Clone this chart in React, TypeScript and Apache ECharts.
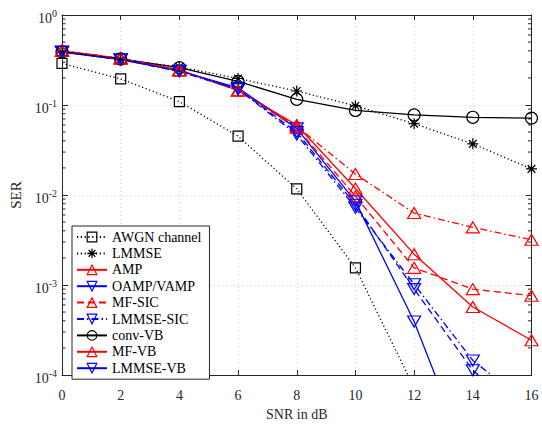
import React, { useEffect, useRef } from "react";
import * as echarts from "echarts";

const snr = [0, 2, 4, 6, 8, 10, 12, 14, 16];
const awgn = [0.29, 0.195, 0.109, 0.045, 0.0117, 0.00155, 0.000072, null, null];
const lmmse = [0.385, 0.32, 0.265, 0.197, 0.143, 0.098, 0.062, 0.037, 0.0195];
const amp = [0.4, 0.33, 0.245, 0.145, 0.06, 0.0118, 0.0022, 0.00057, 0.000243];
const oamp = [0.39, 0.32, 0.24, 0.155, 0.055, 0.0085, 0.000393, 0.0000085, 0.0000002];
const mfSic = [0.4, 0.33, 0.24, 0.145, 0.058, 0.0171, 0.0063, 0.00437, 0.00318];
const lmmseSic = [0.39, 0.32, 0.235, 0.15, 0.047, 0.0072, 0.00102, 0.000145, 0.000045];
const convVb = [0.39, 0.325, 0.26, 0.183, 0.1155, 0.087, 0.0776, 0.073, 0.0715];
const mfVb = [0.4, 0.33, 0.245, 0.145, 0.056, 0.0097, 0.00155, 0.0009, 0.00076];
const lmmseVb = [0.39, 0.32, 0.24, 0.15, 0.05, 0.0078, 0.0009, 0.000113, 0.00003];

const decades = [-4, -3, -2, -1];
const minorMultipliers = [2, 3, 4, 5, 6, 7, 8, 9];

const FONT = "Liberation Serif";
const RED = "#ff0000";
const BLUE = "#0000ff";
const BLACK = "#000000";
const CLEAR = "rgba(255,255,255,0)";

const ASTERISK =
  "path://M0,-10 L0,10 M-10,0 L10,0 M-7,-7 L7,7 M-7,7 L7,-7";

function pair(ys: (number | null)[]) {
  return snr.map((x, i) => [x, ys[i]]);
}

function mkSeries(
  name: string,
  data: (number | null)[],
  color: string,
  lineType: any,
  symbol: string,
  symbolSize: any,
  rotate = 0,
  width = 1.3
) {
  return {
    name,
    type: "line",
    data: pair(data),
    xAxisIndex: 0,
    yAxisIndex: 0,
    clip: true,
    symbol,
    symbolSize,
    symbolRotate: rotate,
    showAllSymbol: true,
    connectNulls: false,
    lineStyle: { color, width, type: lineType },
    itemStyle: { color: CLEAR, borderColor: color, borderWidth: 1.2 },
    emphasis: { disabled: true },
  };
}

export default function App() {
  const ref = useRef<HTMLDivElement>(null);
  useEffect(() => {
    if (!ref.current) return;
    const chart = echarts.init(ref.current, null, { renderer: "svg" });
    const minorData: number[][] = [];
    decades.forEach((d) =>
      minorMultipliers.forEach((m) => minorData.push([0, m * Math.pow(10, d)]))
    );
    const dotted = [1.2, 2.6];
    const dashed = [7, 4];
    const dashDot = [7, 3, 1.5, 3];
    const tri = [13, 11];
    const li = (name: string, color: string, extra: any = {}) => ({
      name,
      itemStyle: { color: CLEAR, borderColor: color, borderWidth: 1.2 },
      ...extra,
    });
    const option: any = {
      animation: false,
      backgroundColor: "#ffffff",
      grid: { left: 62, top: 15, right: 10.5, bottom: 41, containLabel: false },
      xAxis: [
        {
          type: "value",
          min: 0,
          max: 16,
          interval: 2,
          name: "SNR in dB",
          nameLocation: "middle",
          nameGap: 32,
          nameTextStyle: { fontFamily: FONT, fontSize: 14, color: "#262626" },
          axisLine: { show: true, onZero: false, lineStyle: { color: "#262626", width: 1 } },
          axisTick: { show: true, inside: true, length: 5, lineStyle: { color: "#262626" } },
          axisLabel: { fontFamily: FONT, fontSize: 14, color: "#262626", margin: 13 },
          splitLine: { show: true, lineStyle: { color: "#cfcfcf", type: [1, 3], width: 1 } },
        },
        {
          type: "value",
          position: "top",
          min: 0,
          max: 16,
          interval: 2,
          axisLine: { show: true, onZero: false, lineStyle: { color: "#262626", width: 1 } },
          axisTick: { show: true, inside: true, length: 5, lineStyle: { color: "#262626" } },
          axisLabel: { show: false },
          splitLine: { show: false },
        },
      ],
      yAxis: [
        {
          type: "log",
          logBase: 10,
          min: 0.0001,
          max: 1,
          name: "SER",
          nameLocation: "middle",
          nameGap: 37,
          nameTextStyle: { fontFamily: FONT, fontSize: 15, color: "#262626" },
          axisLine: { show: true, onZero: false, lineStyle: { color: "#262626", width: 1 } },
          axisTick: { show: true, inside: true, length: 6, lineStyle: { color: "#262626" } },
          axisLabel: {
            margin: 5,
            color: "#262626",
            formatter: (v: number) => {
              const e = Math.round(Math.log10(v));
              return "{b|10}{s|" + e + "}";
            },
            rich: {
              b: { fontFamily: FONT, fontSize: 14, color: "#262626", padding: [6, 0, 0, 0] },
              s: { fontFamily: FONT, fontSize: 10, color: "#262626", padding: [0, 0, 4, 0] },
            },
          },
          splitLine: { show: true, lineStyle: { color: "#cfcfcf", type: [1, 3], width: 1 } },
        },
        {
          type: "log",
          logBase: 10,
          position: "right",
          min: 0.0001,
          max: 1,
          axisLine: { show: true, onZero: false, lineStyle: { color: "#262626", width: 1 } },
          axisTick: { show: true, inside: true, length: 6, lineStyle: { color: "#262626" } },
          axisLabel: { show: false },
          splitLine: { show: false },
        },
      ],
      legend: {
        orient: "vertical",
        left: 72,
        top: 226,
        padding: [4, 8, 4, 4],
        itemWidth: 30,
        itemHeight: 12,
        itemGap: 2.4,
        backgroundColor: "#ffffff",
        borderColor: "#262626",
        borderWidth: 1,
        textStyle: { fontFamily: FONT, fontSize: 14, color: "#000" },
        data: [
          li("AWGN channel", BLACK),
          li("LMMSE", BLACK),
          li("AMP", RED),
          li("OAMP/VAMP", BLUE),
          li("MF-SIC", RED, { lineStyle: { type: dashed } }),
          li("LMMSE-SIC", BLUE),
          li("conv-VB", BLACK),
          li("MF-VB", RED, { lineStyle: { type: "solid" } }),
          li("LMMSE-VB", BLUE, { lineStyle: { type: "solid" } }),
        ],
      },
      series: [
        mkSeries("AWGN channel", awgn, BLACK, dotted, "rect", 10),
        mkSeries("LMMSE", lmmse, BLACK, dotted, ASTERISK, 11),
        mkSeries("AMP", amp, RED, "solid", "triangle", tri),
        mkSeries("OAMP/VAMP", oamp, BLUE, "solid", "triangle", tri, 180),
        mkSeries("MF-SIC", mfSic, RED, dashDot, "triangle", tri),
        mkSeries("LMMSE-SIC", lmmseSic, BLUE, dashDot, "triangle", tri, 180),
        mkSeries("conv-VB", convVb, BLACK, "solid", "circle", 12),
        mkSeries("MF-VB", mfVb, RED, dashed, "triangle", tri),
        mkSeries("LMMSE-VB", lmmseVb, BLUE, dashed, "triangle", tri, 180),
        {
          type: "custom",
          xAxisIndex: 0,
          yAxisIndex: 0,
          silent: true,
          data: minorData,
          renderItem: (params: any, api: any) => {
            const p = api.coord([0, api.value(1)]);
            const cs = params.coordSys;
            const st = { stroke: "#262626", lineWidth: 1 };
            return {
              type: "group",
              children: [
                { type: "line", shape: { x1: cs.x, y1: p[1], x2: cs.x + 3.5, y2: p[1] }, style: st },
                {
                  type: "line",
                  shape: { x1: cs.x + cs.width - 3.5, y1: p[1], x2: cs.x + cs.width, y2: p[1] },
                  style: st,
                },
              ],
            };
          },
        },
      ],
    };
    chart.setOption(option);
    return () => chart.dispose();
  }, []);
  return (
    <div
      ref={ref}
      style={{ position: "fixed", left: 0, top: 0, width: 542, height: 426, background: "#fff" }}
    />
  );
}
